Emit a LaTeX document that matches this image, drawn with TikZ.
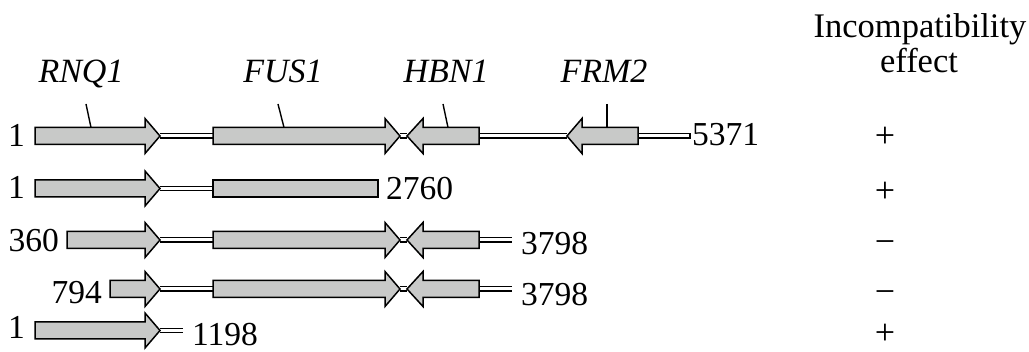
\documentclass[tikz,border=0pt]{standalone}
\usepackage{fontspec}
\setmainfont{Liberation Serif}
\definecolor{genefill}{RGB}{200,201,200}
\tikzset{
  % gene pointing right: box from #1 to #2, head tip at #3
  pics/rgene/.style n args={3}{code={
    \draw[gene] (#1,-8.5) -- (#2,-8.5) -- (#2,-17.5) -- (#3,0) -- (#2,17.5)
      -- (#2,8.5) -- (#1,8.5) -- cycle;
    \coordinate (-l) at (#1,0);
    \coordinate (-r) at (#3,0);
  }},
  % gene pointing left: head tip at #1, head base at #2, box ends at #3
  pics/lgene/.style n args={3}{code={
    \draw[gene] (#3,-8.5) -- (#2,-8.5) -- (#2,-17.5) -- (#1,0) -- (#2,17.5)
      -- (#2,8.5) -- (#3,8.5) -- cycle;
    \coordinate (-l) at (#1,0);
    \coordinate (-r) at (#3,0);
  }},
  % truncated gene without a head
  pics/gbox/.style n args={2}{code={
    \draw[gene] (#1,-8.5) rectangle (#2,8.5);
    \coordinate (-l) at (#1,0);
    \coordinate (-r) at (#2,0);
  }},
}
\begin{document}
\begin{tikzpicture}[x=1pt,y=-1pt,
  gene/.style={draw=black, line width=1.5pt, fill=genefill, line join=miter},
  linker/.style={draw=black, line width=1.3pt, double=white, double distance=3pt},
  tickline/.style={draw=black, line width=1.4pt},
  num/.style={font=\fontsize{33.5}{37}\selectfont, inner sep=0pt},
  gname/.style={font=\fontsize{34}{38}\selectfont\itshape, inner sep=0pt, anchor=base},
  head/.style={font=\fontsize{34.5}{38}\selectfont, inner sep=0pt, anchor=base},
  sign/.style={font=\fontsize{36}{40}\selectfont, inner sep=0pt, anchor=center}]
\useasboundingbox (0,0) rectangle (1029,352);

% column header
\node[head] (hdr1) at (920,38) {Incompatibility};
\node[head] (hdr2) at (919,73) {effect};

% gene names with pointers to the full-length fragment
\node[gname] (nRNQ) at (81,83) {RNQ1};
\node[gname] (nFUS) at (283,83) {FUS1};
\node[gname] (nHBN) at (446,83) {HBN1};
\node[gname] (nFRM) at (604,83) {FRM2};
\coordinate (tRNQ) at (86,104);  \coordinate (gRNQ) at (91,127.5);
\coordinate (tFUS) at (278,104); \coordinate (gFUS) at (284,127.5);
\coordinate (tHBN) at (443,104); \coordinate (gHBN) at (448,127.5);
\coordinate (tFRM) at (607,104); \coordinate (gFRM) at (607,127.5);
\draw[tickline] (tRNQ) -- (gRNQ);
\draw[tickline] (tFUS) -- (gFUS);
\draw[tickline] (tHBN) -- (gHBN);
\draw[tickline] (tFRM) -- (gFRM);

% fragment 1..5371
\coordinate (e1) at (690,136);
\draw[linker] (160,136) -- (213,136);
\draw[linker] (400,136) -- (407,136);
\draw[linker] (479,136) -- (567,136);
\draw[linker] (638,136) -- (e1);
\pic (a1) at (0,136) {rgene={35}{145}{160}};
\pic (b1) at (0,136) {rgene={213}{385}{400}};
\pic (c1) at (0,136) {lgene={407}{423}{479}};
\pic (d1) at (0,136) {lgene={567}{582}{638}};
\draw[black, line width=1.3pt] ([yshift=2.8pt]e1) -- ([yshift=-2.8pt]e1);
\node[num, anchor=base east] (s1) at (25,147) {1};
\node[num, anchor=base west] (f1) at (692,146) {5371};

% fragment 1..2760
\draw[linker] (160,188.5) -- (213,188.5);
\pic (a2) at (0,188.5) {rgene={35}{145}{160}};
\pic (b2) at (0,188.5) {gbox={213}{378}};
\node[num, anchor=base east] (s2) at (25,199) {1};
\node[num, anchor=base west] (f2) at (386,200) {2760};

% fragment 360..3798
\coordinate (e3) at (512,240);
\draw[linker] (160,240) -- (213,240);
\draw[linker] (400,240) -- (407,240);
\draw[linker] (479,240) -- (e3);
\pic (a3) at (0,240) {rgene={67}{145}{160}};
\pic (b3) at (0,240) {rgene={213}{385}{400}};
\pic (c3) at (0,240) {lgene={407}{423}{479}};
\node[num, anchor=base east] (s3) at (59,252) {360};
\node[num, anchor=base west] (f3) at (521,255) {3798};

% fragment 794..3798
\coordinate (e4) at (512,289);
\draw[linker] (160,289) -- (213,289);
\draw[linker] (400,289) -- (407,289);
\draw[linker] (479,289) -- (e4);
\pic (a4) at (0,289) {rgene={110}{145}{160}};
\pic (b4) at (0,289) {rgene={213}{385}{400}};
\pic (c4) at (0,289) {lgene={407}{423}{479}};
\node[num, anchor=base east] (s4) at (102,304) {794};
\node[num, anchor=base west] (f4) at (521,306) {3798};

% fragment 1..1198
\coordinate (e5) at (183,330.5);
\draw[linker] (160,330.5) -- (e5);
\pic (a5) at (0,330.5) {rgene={35}{145}{160}};
\node[num, anchor=base east] (s5) at (25,339) {1};
\node[num, anchor=base west] (f5) at (192,346) {1198};

% effect column
\node[sign] (m1) at (885,137) {+};
\node[sign] (m2) at (885,192) {+};
\node[sign] (m3) at (885,247) {−};
\node[sign] (m4) at (885,297) {−};
\node[sign] (m5) at (885,334) {+};
\end{tikzpicture}
\end{document}
